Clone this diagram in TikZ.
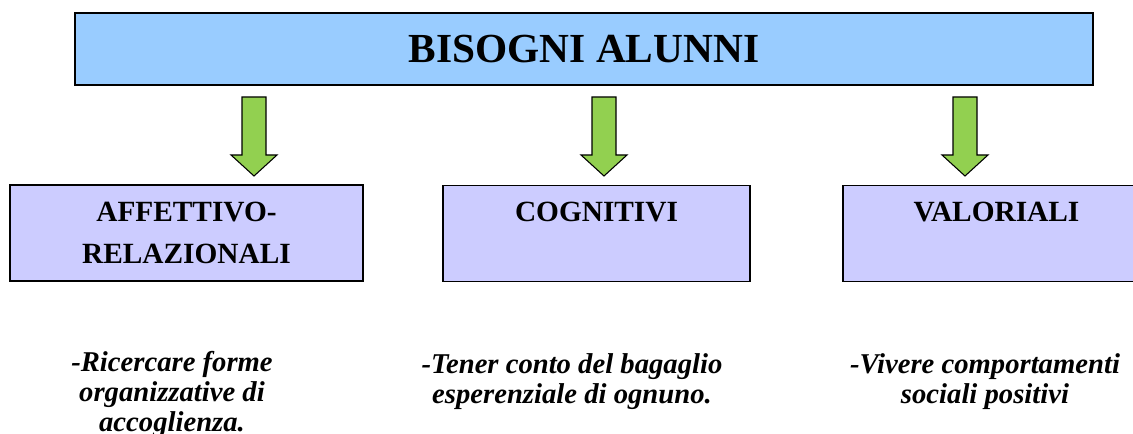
\documentclass[tikz,border=0pt]{standalone}
\usepackage{fontspec}
\setmainfont{Liberation Serif}
\usepackage{xcolor}
\usetikzlibrary{positioning}

\definecolor{titleblue}{HTML}{99CCFF}
\definecolor{boxlilac}{HTML}{CCCCFF}
\definecolor{arrowgreen}{HTML}{92D050}

\tikzset{
  titlebox/.style={draw,line width=1.5pt,fill=titleblue,
    minimum width=763.5pt,minimum height=54pt,
    font=\fontsize{31}{38}\selectfont\bfseries},
  needbox/.style={draw,line width=1.1pt,fill=boxlilac,
    minimum height=72pt,align=center,
    font=\fontsize{22}{32}\selectfont\bfseries},
  notetext/.style={anchor=north,inner sep=0pt,align=center,
    font=\fontsize{21.5}{22.5}\selectfont\bfseries\itshape},
  downarrow/.style={draw,line width=0.8pt,fill=arrowgreen,line join=miter}
}

\begin{document}
\begin{tikzpicture}[x=0.75pt,y=-0.75pt]
\useasboundingbox (0,0) rectangle (1133,434);

% titolo
\node[titlebox] (bisogni) at (584,49) {BISOGNI ALUNNI};

% bisogni
\node[needbox,minimum width=264.75pt] (affettivo) at (186.5,233) {AFFETTIVO-\\RELAZIONALI};
\node[needbox,minimum width=230.25pt] (cognitivi) at (596.5,233.5) {COGNITIVI\\\mbox{}};
\node[needbox,minimum width=230.25pt] (valoriali) at (996.5,233.5) {VALORIALI\\\mbox{}};

% frecce
\foreach \ax in {254,604,965}
  \draw[downarrow] (\ax-12,97) -- (\ax+12,97) -- (\ax+12,155) -- (\ax+23,155)
    -- (\ax,176) -- (\ax-23,155) -- (\ax-12,155) -- cycle;

% note
\node[notetext] (ricercare) at (172,351) {-Ricercare forme\\organizzative di\\accoglienza.};
\node[notetext] (tenere) at (572,353) {-Tener conto del bagaglio\\esperenziale di ognuno.};
\node[notetext] (vivere) at (985,353) {-Vivere comportamenti\\sociali positivi};
\end{tikzpicture}
\end{document}
